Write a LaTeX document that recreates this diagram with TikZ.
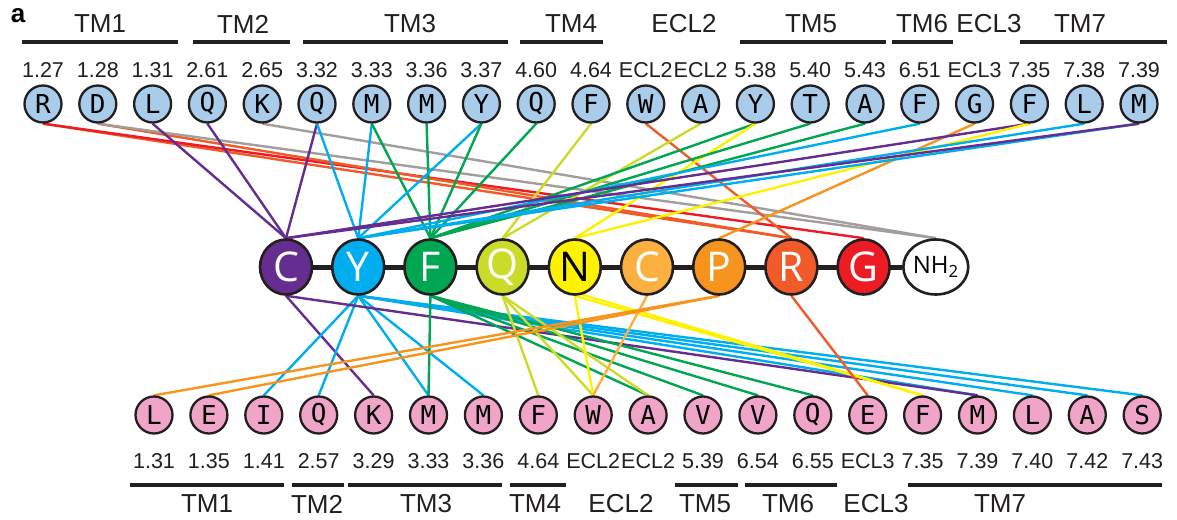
\documentclass[tikz,border=0pt]{standalone}
\usepackage{fontspec}
\setmainfont{Liberation Sans}
\newfontfamily\resfont{DejaVu Sans Mono}
\newfontfamily\pepfont{Open Sans}
\usetikzlibrary{backgrounds,shapes.geometric}
\definecolor{ink}{HTML}{231F20}
\definecolor{topblue}{HTML}{A8CCEA}
\definecolor{botpink}{HTML}{F0A4C8}
\definecolor{cpurple}{HTML}{662D91}
\definecolor{ccyan}{HTML}{00AEEF}
\definecolor{cgreen}{HTML}{00A651}
\definecolor{cygreen}{HTML}{CBDB2A}
\definecolor{cyellow}{HTML}{FFF200}
\definecolor{clorange}{HTML}{FBB040}
\definecolor{corange}{HTML}{F7941D}
\definecolor{crorange}{HTML}{F15A29}
\definecolor{cred}{HTML}{ED1C24}
\definecolor{cgrey}{HTML}{A39E9B}
\begin{document}
\begin{tikzpicture}[x=1pt,y=-1pt,
  res/.style={circle,draw=ink,line width=2.3pt,minimum size=37pt,inner sep=0pt,
    font=\resfont\fontsize{26}{26}\selectfont,text=black},
  topres/.style={res,fill=topblue},
  botres/.style={res,fill=botpink},
  pep/.style={ellipse,draw=ink,line width=2.6pt,minimum width=52pt,minimum height=55pt,
    inner sep=0pt,font=\pepfont\fontsize{41}{41}\selectfont,text=white},
  num/.style={inner sep=0pt,text=ink,font=\fontsize{21.5}{23}\selectfont},
  lab/.style={inner sep=0pt,text=ink,font=\fontsize{26}{28}\selectfont},
  bar/.style={draw=ink,line width=4.6pt},
  cn/.style={line width=2.4pt},
  chain/.style={draw=ink,line width=5pt}]
\useasboundingbox (0,0) rectangle (1177,519);

\node[inner sep=0pt,font=\bfseries\fontsize{26}{28}\selectfont] (panel) at (18,16) {a};

% top labels and bars
\node[lab] (tTM1) at (100,24) {TM1};
\node[lab] (tTM2) at (243,24) {TM2};
\node[lab] (tTM3) at (410,24) {TM3};
\node[lab] (tTM4) at (571,24) {TM4};
\node[lab] (tECL2) at (684,24) {ECL2};
\node[lab] (tTM5) at (811,24) {TM5};
\node[lab] (tTM6) at (922,24) {TM6};
\node[lab] (tECL3) at (989,24) {ECL3};
\node[lab] (tTM7) at (1080,24) {TM7};
\draw[bar] (22,42) -- (178,42);
\draw[bar] (193,42) -- (290,42);
\draw[bar] (303,42) -- (508,42);
\draw[bar] (520,42) -- (603,42);
\draw[bar] (740,42) -- (886,42);
\draw[bar] (892,42) -- (953,42);
\draw[bar] (1020,42) -- (1167,42);

% bottom labels and bars
\node[lab] (bTM1) at (207,504) {TM1};
\node[lab] (bTM2) at (317,504) {TM2};
\node[lab] (bTM3) at (426,504) {TM3};
\node[lab] (bTM4) at (535,504) {TM4};
\node[lab] (bECL2) at (621,504) {ECL2};
\node[lab] (bTM5) at (705,504) {TM5};
\node[lab] (bTM6) at (788,504) {TM6};
\node[lab] (bECL3) at (876,504) {ECL3};
\node[lab] (bTM7) at (1000,504) {TM7};
\draw[bar] (130,485) -- (284,485);
\draw[bar] (292,485) -- (344,485);
\draw[bar] (348,485) -- (502,485);
\draw[bar] (510,485) -- (566,485);
\draw[bar] (675,485) -- (738,485);
\draw[bar] (745,485) -- (837,485);
\draw[bar] (908,485) -- (1162,485);

% top residues
\foreach \l/\n [count=\i from 0] in {R/1.27,D/1.28,L/1.31,Q/2.61,K/2.65,Q/3.32,M/3.33,M/3.36,Y/3.37,Q/4.60,F/4.64,W/ECL2,A/ECL2,Y/5.38,T/5.40,A/5.43,F/6.51,G/ECL3,F/7.35,L/7.38,M/7.39}{
  \node[topres] (t\i) at ({43+\i*54.8},104) {\l};
  \node[num] (tn\i) at ({43+\i*54.8},70) {\n};
}
% bottom residues
\foreach \l/\n [count=\i from 0] in {L/1.31,E/1.35,I/1.41,Q/2.57,K/3.29,M/3.33,M/3.36,F/4.64,W/ECL2,A/ECL2,V/5.39,V/6.54,Q/6.55,E/ECL3,F/7.35,M/7.39,L/7.40,A/7.42,S/7.43}{
  \node[botres] (b\i) at ({154+\i*54.9},415) {\l};
  \node[num] (bn\i) at ({154+\i*54.9},461) {\n};
}
% peptide
\foreach \l/\c/\t [count=\i from 0] in {C/cpurple/white,Y/ccyan/white,F/cgreen/white,Q/cygreen/white,N/cyellow/black,C/clorange/white,P/corange/white,R/crorange/white,G/cred/white}{
  \node[pep,fill=\c,text=\t] (p\i) at ({286+\i*72.2},267) {\l};
}
\node[pep,fill=white,text=black,font=\pepfont\fontsize{24}{24}\selectfont] (p9) at ({286+9*72.2},267) {NH\textsubscript{2}};

\begin{pgfonlayer}{background}
  \draw[chain] (p0) -- (p9);
  % top contacts
  \draw[cn,crorange] (t0.south) -- (p7.north);
  \draw[cn,cred] (t0.south) -- (p8.north);
  \draw[cn,crorange] (t1.south) -- (p7.north);
  \draw[cn,cgrey] (t1.south) -- (p9.north);
  \draw[cn,cpurple] (t2.south) -- (p0.north);
  \draw[cn,cpurple] (t3.south) -- (p0.north);
  \draw[cn,cgrey] (t4.south) -- (p9.north);
  \draw[cn,cpurple] (t5.south) -- (p0.north);
  \draw[cn,ccyan] (t5.south) -- (p1.north);
  \draw[cn,ccyan] (t6.south) -- (p1.north);
  \draw[cn,cgreen] (t6.south) -- (p2.north);
  \draw[cn,cgreen] (t7.south) -- (p2.north);
  \draw[cn,ccyan] (t8.south) -- (p1.north);
  \draw[cn,cgreen] (t8.south) -- (p2.north);
  \draw[cn,cgreen] (t9.south) -- (p2.north);
  \draw[cn,cygreen] (t10.south) -- (p3.north);
  \draw[cn,crorange] (t11.south) -- (p7.north);
  \draw[cn,cygreen] (t12.south) -- (p3.north);
  \draw[cn,cgreen] (t13.south) -- (p2.north);
  \draw[cn,cyellow] (t13.south) -- (p4.north);
  \draw[cn,cgreen] (t14.south) -- (p2.north);
  \draw[cn,cgreen] (t15.south) -- (p2.north);
  \draw[cn,ccyan] (t16.south) -- (p1.north);
  \draw[cn,corange] (t17.south) -- (p6.north);
  \draw[cn,cpurple] (t18.south) -- (p0.north);
  \draw[cn,cyellow] (t18.south) -- (p4.north);
  \draw[cn,ccyan] (t19.south) -- (p1.north);
  \draw[cn,ccyan] (t20.south) -- (p1.north);
  \draw[cn,cpurple] (t20.south) -- (p0.north);
  % bottom contacts
  \draw[cn,cpurple] (p0.south) -- (b4.north);
  \draw[cn,ccyan] (p1.south) -- (b2.north);
  \draw[cn,ccyan] (p1.south) -- (b3.north);
  \draw[cn,ccyan] (p1.south) -- (b5.north);
  \draw[cn,ccyan] (p1.south) -- (b6.north);
  \draw[cn,ccyan] (p1.south) -- (b15.north);
  \draw[cn,ccyan] (p1.south) -- (b16.north);
  \draw[cn,ccyan] (p1.south) -- (b17.north);
  \draw[cn,ccyan] (p1.south) -- (b18.north);
  \draw[cn,cpurple] (p0.south) -- (b15.north);
  \draw[cn,cgreen] (p2.south) -- (b5.north);
  \draw[cn,cgreen] (p2.south) -- (b9.north);
  \draw[cn,cgreen] (p2.south) -- (b10.north);
  \draw[cn,cgreen] (p2.south) -- (b11.north);
  \draw[cn,cgreen] (p2.south) -- (b12.north);
  \draw[cn,cygreen] (p3.south) -- (b7.north);
  \draw[cn,cygreen] (p3.south) -- (b8.north);
  \draw[cn,cygreen] (p3.south) -- (b9.north);
  \draw[cn,cyellow] (p4.south) -- (b8.north);
  \draw[cn,cyellow] (p4.south) -- (b14.north);
  \draw[cn,cyellow] (p4.-75) -- (b14.north);
  \draw[cn,clorange] (p5.south) -- (b8.north);
  \draw[cn,corange] (p6.south) -- (b0.north);
  \draw[cn,corange] (p6.south) -- (b1.north);
  \draw[cn,crorange] (p7.south) -- (b13.north);
\end{pgfonlayer}
\end{tikzpicture}
\end{document}
